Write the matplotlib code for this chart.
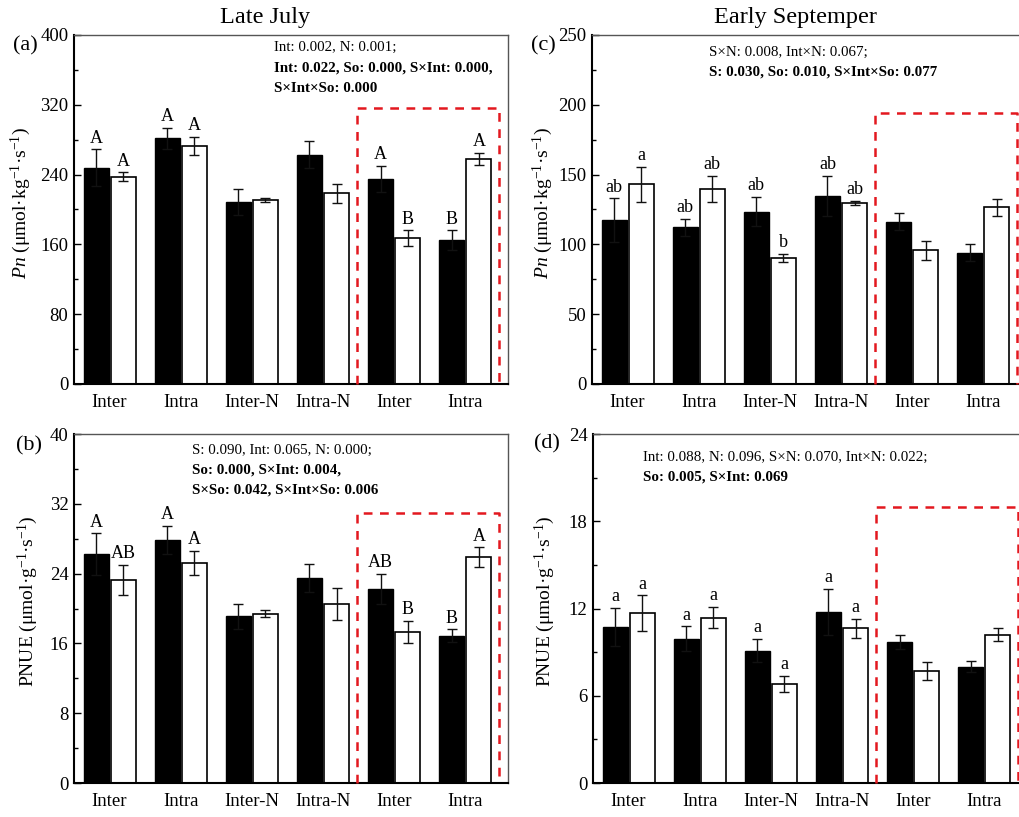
import matplotlib
matplotlib.use("Agg")
import matplotlib.pyplot as plt
from matplotlib.ticker import MultipleLocator

plt.rcParams["font.family"] = ["Liberation Serif", "DejaVu Serif"]
plt.rcParams["mathtext.fontset"] = "custom"
plt.rcParams["mathtext.rm"] = "Liberation Serif"
plt.rcParams["mathtext.it"] = "Liberation Serif:italic"
plt.rcParams["mathtext.bf"] = "Liberation Serif:bold"

GROUPS = ["Inter", "Intra", "Inter-N", "Intra-N", "Inter", "Intra"]

# (a) Pn, Late July
PN_JUL_BLACK = [248, 281.6, 209, 263, 235, 165]
PN_JUL_BLACK_ERR = [21, 12, 15, 15, 15, 11]
PN_JUL_WHITE = [237.6, 272.8, 211, 218.5, 167, 258]
PN_JUL_WHITE_ERR = [5, 10, 2, 11, 9, 7]
PN_JUL_BLACK_LET = ["A", "A", "", "", "A", "B"]
PN_JUL_WHITE_LET = ["A", "A", "", "", "B", "A"]

# (b) PNUE, Late July
PNUE_JUL_BLACK = [26.2, 27.9, 19.1, 23.5, 22.25, 16.9]
PNUE_JUL_BLACK_ERR = [2.4, 1.6, 1.45, 1.6, 1.7, 0.7]
PNUE_JUL_WHITE = [23.3, 25.2, 19.4, 20.5, 17.3, 25.9]
PNUE_JUL_WHITE_ERR = [1.7, 1.4, 0.4, 1.8, 1.25, 1.1]
PNUE_JUL_BLACK_LET = ["A", "A", "", "", "AB", "B"]
PNUE_JUL_WHITE_LET = ["AB", "A", "", "", "B", "A"]

# (c) Pn, Early September
PN_SEP_BLACK = [117.5, 112.2, 123.4, 134.9, 116.3, 94.1]
PN_SEP_BLACK_ERR = [15.5, 6, 10.5, 14.3, 6, 6]
PN_SEP_WHITE = [143, 139.7, 90.3, 129.4, 95.7, 126.6]
PN_SEP_WHITE_ERR = [12.4, 9.5, 3, 1.5, 7, 6]
PN_SEP_BLACK_LET = ["ab", "ab", "ab", "ab", "", ""]
PN_SEP_WHITE_LET = ["a", "ab", "b", "ab", "", ""]

# (d) PNUE, Early September
PNUE_SEP_BLACK = [10.72, 9.92, 9.09, 11.75, 9.71, 7.99]
PNUE_SEP_BLACK_ERR = [1.3, 0.85, 0.8, 1.6, 0.5, 0.39]
PNUE_SEP_WHITE = [11.66, 11.38, 6.8, 10.63, 7.67, 10.21]
PNUE_SEP_WHITE_ERR = [1.24, 0.75, 0.57, 0.66, 0.62, 0.42]
PNUE_SEP_BLACK_LET = ["a", "a", "a", "a", "", ""]
PNUE_SEP_WHITE_LET = ["a", "a", "a", "a", "", ""]

PN_LABEL = r"$Pn$ (μmol·kg$^{-1}$·s$^{-1}$)"
PNUE_LABEL = r"PNUE (μmol·g$^{-1}$·s$^{-1}$)"

STATS_A = [("Int: 0.002, N: 0.001;", False),
           ("Int: 0.022, So: 0.000, S×Int: 0.000,", True),
           ("S×Int×So: 0.000", True)]
STATS_B = [("S: 0.090, Int: 0.065, N: 0.000;", False),
           ("So: 0.000, S×Int: 0.004,", True),
           ("S×So: 0.042, S×Int×So: 0.006", True)]
STATS_C = [("S×N: 0.008, Int×N: 0.067;", False),
           ("S: 0.030, So: 0.010, S×Int×So: 0.077", True)]
STATS_D = [("Int: 0.088, N: 0.096, S×N: 0.070, Int×N: 0.022;", False),
           ("So: 0.005, S×Int: 0.069", True)]

W, H = 1019, 817
AX_W, AX_H = 434, 349
OFF = 0.19
BAR_W = 0.35


def panel(rect_px, black, black_err, white, white_err, black_let, white_let,
          ymax, major, ylabel, label_x, tag, tag_xy, stats, stats_x, stats_y, box_top):
    left, top = rect_px
    ax = plt.gcf().add_axes([left / W, 1 - (top + AX_H) / H, AX_W / W, AX_H / H])
    x = list(range(1, len(GROUPS) + 1))
    xb = [v - OFF for v in x]
    xw = [v + OFF for v in x]
    ax.bar(xb, black, width=BAR_W, color="black", edgecolor="black", linewidth=1.0, zorder=2)
    ax.bar(xw, white, width=BAR_W, color="white", edgecolor="black", linewidth=1.2, zorder=2)
    ekw = dict(fmt="none", ecolor="#111111", elinewidth=1.0, capsize=3.5, capthick=1.0, zorder=3)
    ax.errorbar(xb, black, yerr=black_err, **ekw)
    ax.errorbar(xw, white, yerr=white_err, **ekw)
    for xs, vals, errs, lets in ((xb, black, black_err, black_let), (xw, white, white_err, white_let)):
        for xi, v, e, lab in zip(xs, vals, errs, lets):
            if lab:
                ax.annotate(lab, (xi, v + e), xytext=(0, 2), textcoords="offset points",
                            ha="center", va="bottom", fontsize=13)

    # highlight box around the last two groups
    bx0, bx1 = x[4] - 0.52, x[5] + 0.47
    ax.plot([bx0, bx0, bx1, bx1], [0, box_top, box_top, 0], color="#e3181f",
            linestyle=(0, (3.5, 3)), linewidth=1.8, clip_on=False, zorder=4)

    ax.set_xlim(0.5, 6.6)
    ax.set_ylim(0, ymax)
    ax.set_xticks(x)
    ax.set_xticklabels(GROUPS, fontsize=13.5)
    ax.tick_params(axis="x", length=0, pad=7)
    ax.yaxis.set_major_locator(MultipleLocator(major))
    ax.yaxis.set_minor_locator(MultipleLocator(major / 2))
    ax.tick_params(axis="y", which="major", direction="in", length=5, width=1, labelsize=13.5, pad=4)
    ax.tick_params(axis="y", which="minor", direction="in", length=3, width=1)
    for side in ("left", "bottom"):
        ax.spines[side].set_linewidth(1.5)
        ax.spines[side].set_color("black")
    for side in ("top", "right"):
        ax.spines[side].set_linewidth(1.0)
        ax.spines[side].set_color("#555555")
    ax.set_ylabel(ylabel, fontsize=14)
    ax.yaxis.set_label_coords(label_x, 0.52)

    for i, (txt, bold) in enumerate(stats):
        ax.text(stats_x, stats_y - i * 0.0575, txt, transform=ax.transAxes, fontsize=10.8,
                fontweight="bold" if bold else "normal", ha="left", va="center")
    plt.gcf().text(tag_xy[0] / W, 1 - tag_xy[1] / H, tag, fontsize=16, ha="center", va="center")
    return ax


fig = plt.figure(figsize=(W / 100, H / 100), dpi=100)

panel((74, 35), PN_JUL_BLACK, PN_JUL_BLACK_ERR, PN_JUL_WHITE, PN_JUL_WHITE_ERR,
      PN_JUL_BLACK_LET, PN_JUL_WHITE_LET, 400, 80, PN_LABEL, -0.094, "(a)", (25, 46),
      STATS_A, 0.461, 0.963, 316)
panel((74, 434), PNUE_JUL_BLACK, PNUE_JUL_BLACK_ERR, PNUE_JUL_WHITE, PNUE_JUL_WHITE_ERR,
      PNUE_JUL_BLACK_LET, PNUE_JUL_WHITE_LET, 40, 8, PNUE_LABEL, -0.078, "(b)", (29, 446),
      STATS_B, 0.272, 0.954, 31)
panel((592, 35), PN_SEP_BLACK, PN_SEP_BLACK_ERR, PN_SEP_WHITE, PN_SEP_WHITE_ERR,
      PN_SEP_BLACK_LET, PN_SEP_WHITE_LET, 250, 50, PN_LABEL, -0.085, "(c)", (543, 46),
      STATS_C, 0.270, 0.951, 194)
panel((593, 434), PNUE_SEP_BLACK, PNUE_SEP_BLACK_ERR, PNUE_SEP_WHITE, PNUE_SEP_WHITE_ERR,
      PNUE_SEP_BLACK_LET, PNUE_SEP_WHITE_LET, 24, 6, PNUE_LABEL, -0.083, "(d)", (547, 444),
      STATS_D, 0.115, 0.934, 19)

fig.text(265 / W, 1 - 18 / H, "Late July", fontsize=17.5, ha="center", va="center")
fig.text(795 / W, 1 - 18 / H, "Early Septemper", fontsize=17.5, ha="center", va="center")

fig.savefig("out.png", dpi=100)
